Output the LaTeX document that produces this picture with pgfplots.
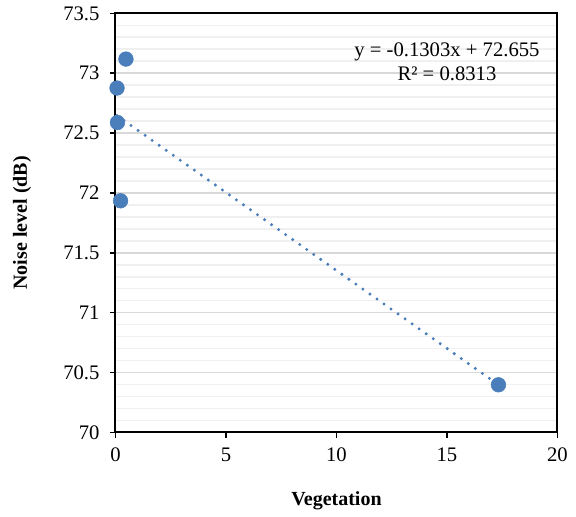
\documentclass[border=0pt]{standalone}
\usepackage{fontspec}
\setmainfont{Liberation Serif}
\usepackage{pgfplots}
\pgfplotsset{compat=1.18}
\definecolor{ptblue}{RGB}{74,126,187}
\definecolor{majgrid}{RGB}{217,217,217}
\definecolor{mingrid}{RGB}{240,240,240}
\begin{document}
\begin{tikzpicture}
  \path[use as bounding box] (0,0) rectangle (432pt,387.75pt);
  \begin{axis}[
    at = {(86.6pt,63.5pt)},
    anchor = south west,
    scale only axis,
    width = 331.5pt,
    height = 314.25pt,
    xmin = 0, xmax = 20,
    ymin = 70, ymax = 73.5,
    xtick = {0,5,10,15,20},
    ytick = {70,70.5,71,71.5,72,72.5,73,73.5},
    minor ytick = {70.1,70.2,70.3,70.4,70.6,70.7,70.8,70.9,
                   71.1,71.2,71.3,71.4,71.6,71.7,71.8,71.9,
                   72.1,72.2,72.3,72.4,72.6,72.7,72.8,72.9,
                   73.1,73.2,73.3,73.4},
    ymajorgrids, yminorgrids,
    major grid style = {majgrid, line width=1.2pt},
    minor grid style = {mingrid, line width=1.2pt},
    tick align = outside,
    xtick pos = bottom,
    ytick pos = left,
    major tick length = 4pt,
    minor tick length = 0pt,
    tick style = {black, line width=1.2pt},
    axis line style = {black, line width=1.5pt},
    every tick label/.append style = {font=\fontsize{15.5}{17}\selectfont},
    /pgf/number format/assume math mode=true,
    yticklabel style = {xshift=-4.5pt, /pgf/number format/.cd, fixed, precision=1},
    xticklabel style = {yshift=-4pt},
    xlabel = {\textbf{Vegetation}},
    ylabel = {\textbf{Noise level (dB)}},
    label style = {font=\fontsize{15}{17}\selectfont},
    xlabel style = {at={(axis description cs:0.5,-0.164)}, anchor=center},
    ylabel style = {at={(axis description cs:-0.2115,0.5)}, anchor=center},
    clip = false,
  ]
    % linear trendline
    \addplot [ptblue, line width=2.5pt, line cap=round, dash pattern=on 0pt off 6.45pt]
      coordinates {(0.07,72.646) (17.33,70.397)};
    \addplot [only marks, mark=*, mark size=5.5pt, mark options={fill=ptblue, draw=ptblue}]
      coordinates {
        (0.475,73.118)
        (0.07,72.876)
        (0.09,72.588)
        (0.23,71.934)
        (17.33,70.397)
      };
    \node [font=\fontsize{15.5}{18}\selectfont, align=center, anchor=north, inner sep=0pt]
      at (axis cs:15.0,73.26) {y = -0.1303x + 72.655\\R² = 0.8313};
  \end{axis}
\end{tikzpicture}
\end{document}
